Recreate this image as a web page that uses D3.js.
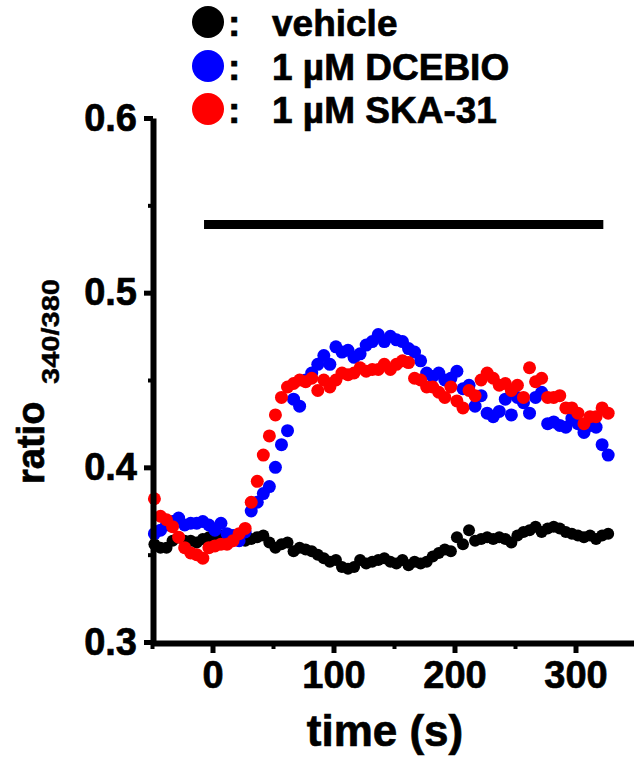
<!DOCTYPE html>
<html>
<head>
<meta charset="utf-8">
<script src="https://cdn.jsdelivr.net/npm/d3@7"></script>
<style>
  body { margin: 0; background: #fff; }
  svg { display: block; font-family: "Liberation Sans", Arial, sans-serif; font-weight: bold; }
  text { stroke: #000; stroke-width: 0.7px; }
</style>
</head>
<body>
<svg id="chart" width="634" height="761"></svg>
<script>
// sample times (s), one frame every 5 s
var times = [-48, -43, -38, -33, -28, -23, -18, -13, -8, -3,
             2, 7, 12, 17, 22, 27, 32, 37, 42, 47,
             52, 57, 62, 67, 72, 77, 82, 87, 92, 97,
             102, 107, 112, 117, 122, 127, 132, 137, 142, 147,
             152, 157, 162, 167, 172, 177, 182, 187, 192, 197,
             202, 207, 212, 217, 222, 227, 232, 237, 242, 247,
             252, 257, 262, 267, 272, 277, 282, 287, 292, 297,
             302, 307, 312, 317, 322, 327];

// fura-2 ratio 340/380 for each condition
var vehicle = [.356, .354, .354, .358, .360, .358, .358, .357, .359, .360,
               .361, .361, .360, .359, .358, .358, .359, .360, .361, .357,
               .354, .356, .357, .352, .354, .353, .352, .350, .348, .346,
               .347, .343, .342, .343, .347, .345, .346, .347, .348, .346,
               .345, .347, .344, .346, .345, .346, .349, .351, .353, .352,
               .360, .356, .364, .358, .359, .360, .359, .360, .359, .357,
               .361, .363, .364, .366, .363, .365, .366, .365, .363, .362,
               .361, .360, .361, .359, .361, .362];

var dcebio = [.362, .364, .367, .369, .371, .367, .368, .368, .369, .367,
              .364, .368, .362, .361, .358, .363, .375, .380, .385, .389,
              .400, .413, .421, .439, .435, .450, .454, .459, .464, .459,
              .469, .466, .467, .463, .465, .470, .472, .476, .472, .475,
              .473, .472, .468, .466, .461, .454, .452, .454, .450, .451,
              .455, .445, .447, .435, .441, .431, .429, .432, .439, .430,
              .440, .437, .431, .440, .443, .425, .426, .424, .423, .428,
              .425, .420, .424, .423, .413, .407];

var ska31 = [.382, .372, .370, .366, .360, .354, .351, .350, .348, .354,
             .355, .356, .356, .358, .362, .365, .380, .392, .407, .418,
             .430, .440, .446, .448, .450, .449, .451, .444, .450, .446,
             .450, .454, .453, .454, .457, .455, .456, .456, .459, .456,
             .459, .461, .460, .451, .450, .446, .446, .443, .440, .446,
             .438, .434, .444, .441, .450, .454, .451, .447, .448, .444,
             .447, .440, .457, .449, .451, .440, .440, .441, .434, .434,
             .431, .425, .429, .429, .434, .431];

var seriesNames = ["vehicle", "1 µM DCEBIO", "1 µM SKA-31"];
var seriesColors = ["#000000", "#0000ff", "#ff0000"];

var xTicks = [0, 100, 200, 300];
var xMinor = [-50, 50, 150, 250];
var yTicks = [0.3, 0.4, 0.5, 0.6];
var yMinor = [0.35, 0.45, 0.55];

// drug application bar
var barStart = -7, barEnd = 323, barLevel = 0.539;

var svg = d3.select("#chart");

var x = d3.scaleLinear().domain([-50, 350]).range([152, 636]);
var y = d3.scaleLinear().domain([0.3, 0.6]).range([642, 118]);

// build series
var series = [vehicle, dcebio, ska31].map(function (vals, i) {
  return {
    name: seriesNames[i],
    color: seriesColors[i],
    r: i == 0 ? 6 : 6.5,
    points: vals.map(function (v, j) { return {t: times[j], v: v}; })
  };
});

// dots, vehicle at the bottom
series.forEach(function (s) {
  svg.append("g")
    .selectAll("circle")
    .data(s.points)
    .enter().append("circle")
    .attr("cx", function (d) { return x(d.t); })
    .attr("cy", function (d) { return y(d.v); })
    .attr("r", s.r)
    .style("fill", s.color);
});

// application bar
svg.append("line")
  .attr("x1", x(barStart))
  .attr("x2", x(barEnd))
  .attr("y1", y(barLevel))
  .attr("y2", y(barLevel))
  .style("stroke", "#000")
  .style("stroke-width", 9);

// y axis
var yAxis = svg.append("g")
  .attr("transform", "translate(153,0)")
  .call(d3.axisLeft(y).tickValues(yTicks).tickSize(9).tickSizeOuter(0)
        .tickPadding(7).tickFormat(d3.format(".1f")));

svg.append("g")
  .attr("transform", "translate(153,0)")
  .call(d3.axisLeft(y).tickValues(yMinor).tickSize(5).tickSizeOuter(0).tickFormat(""))
  .call(function (g) { g.select(".domain").remove(); })
  .selectAll("line").style("stroke-width", 4);

// x axis
var xAxis = svg.append("g")
  .attr("transform", "translate(0,643)")
  .call(d3.axisBottom(x).tickValues(xTicks).tickSize(10).tickSizeOuter(0)
        .tickPadding(8).tickFormat(d3.format("d")));

svg.append("g")
  .attr("transform", "translate(0,643)")
  .call(d3.axisBottom(x).tickValues(xMinor).tickSize(6).tickSizeOuter(0).tickFormat(""))
  .call(function (g) { g.select(".domain").remove(); })
  .selectAll("line").style("stroke-width", 4);

[yAxis, xAxis].forEach(function (g) {
  g.select(".domain").style("stroke", "#000").style("stroke-width", 6);
  g.selectAll(".tick line").style("stroke", "#000").style("stroke-width", 5);
  g.selectAll(".tick text")
    .style("font-family", "'Liberation Sans', Arial, sans-serif")
    .style("font-weight", "bold")
    .style("font-size", "38px")
    .style("fill", "#000");
});

// axis titles
svg.append("text")
  .attr("transform", "translate(44,484) rotate(-90)")
  .style("font-size", "38px")
  .text("ratio");

svg.append("text")
  .attr("transform", "translate(59,384) rotate(-90)")
  .attr("textLength", 105)
  .attr("lengthAdjust", "spacingAndGlyphs")
  .style("font-size", "24px")
  .style("stroke-width", "0.4px")
  .text("340/380");

svg.append("text")
  .attr("x", 385)
  .attr("y", 746)
  .attr("text-anchor", "middle")
  .style("font-size", "44px")
  .text("time (s)");

// legend
var legendY = [22, 66, 109];
var legend = svg.append("g");
series.forEach(function (s, i) {
  legend.append("circle")
    .attr("cx", 208)
    .attr("cy", legendY[i])
    .attr("r", 16)
    .style("fill", s.color);
  legend.append("text")
    .attr("x", 228)
    .attr("y", legendY[i] + 14)
    .style("font-size", "37px")
    .text(":");
  legend.append("text")
    .attr("x", 272)
    .attr("y", legendY[i] + 14)
    .style("font-size", "37px")
    .text(s.name);
});
</script>
</body>
</html>
